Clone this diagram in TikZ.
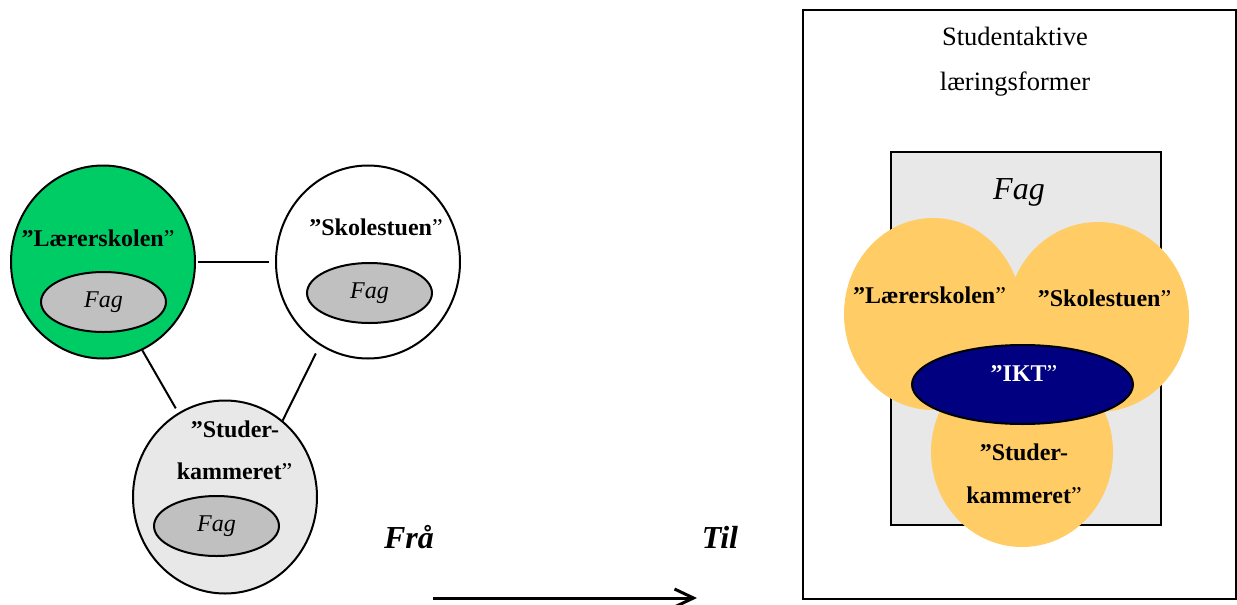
\documentclass[tikz,border=0pt]{standalone}
\usepackage{fontspec}
\setmainfont{Liberation Serif}
\usetikzlibrary{shapes.geometric,arrows.meta}
\definecolor{skolegreen}{RGB}{0,204,102}
\definecolor{sand}{RGB}{255,204,102}
\definecolor{iktblue}{RGB}{0,0,128}
\definecolor{fagfill}{RGB}{192,192,192}
\definecolor{boxfill}{RGB}{232,232,232}
\newcommand{\qname}[1]{\textbf{”#1}”}

\begin{document}
\begin{tikzpicture}[x=0.5pt, y=-0.5pt, line width=1pt,
        room/.style={ellipse, draw, minimum width=92pt, minimum height=96.5pt, inner sep=0},
        fag/.style={ellipse, draw, fill=fagfill, minimum width=62.5pt, minimum height=30pt, inner sep=0, font=\fontsize{12}{14}\selectfont\itshape},
        lbl/.style={anchor=base, inner sep=0, font=\fontsize{12}{14}\selectfont},
        big/.style={anchor=base, inner sep=0, font=\fontsize{16}{18}\selectfont\bfseries\itshape},
        blob/.style={ellipse, fill=sand, inner sep=0}]
    \useasboundingbox (0,0) rectangle (1237,605);
    % the three rooms, each with its own Fag
    \node[room, fill=skolegreen] (laerer) at (103,262) {};
    \node[room, fill=white] (skole) at (368,262) {};
    \node[room, fill=boxfill] (studer) at (225,497) {};
    \foreach \a/\b/\s/\t in {laerer.east/skole.west/1pt/3pt, laerer.294/studer.119/0pt/2.5pt, skole.240/studer.53/4.5pt/0pt}
        \draw[shorten <=\s, shorten >=\t] (\a) -- (\b);
    \foreach \n/\x/\y in {fag1/103.5/302, fag2/369.5/293, fag3/216.5/526}
        \node[fag] (\n) at (\x,\y) {Fag};
    \node[lbl] (laererlbl) at (98,246) {\qname{Lærerskolen}};
    \node[lbl] (skolelbl) at (376,235) {\qname{Skolestuen}};
    \node[lbl] (studerlbl) at (235,437) {\textbf{”Studer-}};
    \node[lbl] (kammerlbl) at (234.5,479) {\textbf{kammeret}”};

    % from -> to
    \node[big] (fraa) at (409,548) {Frå};
    \node[big] (til) at (720,548) {Til};
    \coordinate (arrowstart) at (433,598);
    \coordinate (arrowend) at (697,598);
    \draw[line width=1.5pt, -{Straight Barb[length=9.5pt, width=9pt]}] (arrowstart) -- (arrowend);

    % everything together inside Fag
    \node[draw, minimum width=216.5pt, minimum height=294.5pt, inner sep=0] (outer) at (1019.5,304.5) {};
    \node[lbl, font=\fontsize{13.25}{16}\selectfont] (title1) at (1015,45) {Studentaktive};
    \node[lbl, font=\fontsize{13.25}{16}\selectfont] (title2) at (1015,90) {læringsformer};
    \node[draw, fill=boxfill, minimum width=135pt, minimum height=186.5pt, inner sep=0] (fagbox) at (1026,338.5) {};
    \node[anchor=base, inner sep=0, font=\fontsize{16}{18}\selectfont\itshape] (fagtitle) at (1019,199) {Fag};
    \node[blob, minimum width=89pt, minimum height=96pt] (blobL) at (933,314) {};
    \node[blob, minimum width=91pt, minimum height=95pt] (blobS) at (1098,317) {};
    \node[blob, minimum width=91pt, minimum height=95pt] (blobK) at (1022,452) {};
    \node[ellipse, draw, fill=iktblue, minimum width=110.5pt, minimum height=39.5pt, inner sep=0] (ikt) at (1022.5,384.5) {};
    \node[lbl] (laerer2) at (929.5,303) {\qname{Lærerskolen}};
    \node[lbl] (skole2) at (1104.5,306) {\qname{Skolestuen}};
    \node[lbl, text=white] (iktlbl) at (1024,381) {\qname{IKT}};
    \node[lbl] (studer2) at (1024,460) {\textbf{”Studer-}};
    \node[lbl] (kammer2) at (1024,503) {\textbf{kammeret}”};
\end{tikzpicture}
\end{document}
